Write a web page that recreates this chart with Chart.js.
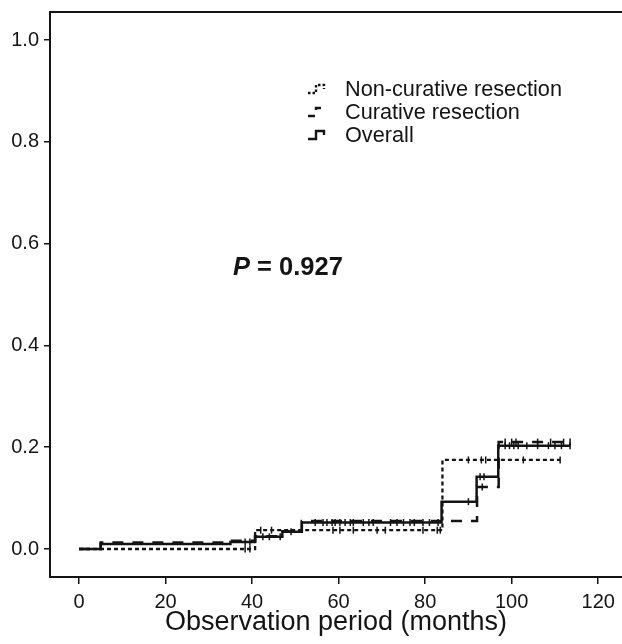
<!DOCTYPE html>
<html>
<head>
<meta charset="utf-8">
<script src="https://cdn.jsdelivr.net/npm/chart.js@4.4.0/dist/chart.umd.min.js"></script>
<style>
  html, body { margin: 0; padding: 0; background: #fff; overflow: hidden; }
  #wrap { width: 622px; height: 644px; position: relative; }
</style>
</head>
<body>
<div id="wrap"><canvas id="chart"></canvas></div>
<script>
// axis ticks
const xTicks = [0, 20, 40, 60, 80, 100, 120];
const yTicks = [0, 0.2, 0.4, 0.6, 0.8, 1.0];

// step curves: time the value starts, cumulative value
const nonCurTimes  = [0, 40.7, 84, 111.2];
const nonCurValues = [0, 0.037, 0.175, 0.175];

const curTimes  = [0, 5, 35, 40.7, 47, 51.5, 92, 97, 113.5];
const curValues = [0, 0.013, 0.016, 0.025, 0.035, 0.055, 0.122, 0.21, 0.21];

const allTimes  = [0, 5, 35, 40.7, 47, 51.5, 83.8, 91.9, 96.9, 113.5];
const allValues = [0, 0.010, 0.014, 0.024, 0.034, 0.052, 0.093, 0.142, 0.203, 0.203];

// censored observations (+ marks)
const nonCurCensor = [38.4, 39.5, 42, 44.5, 58.7, 60.3, 63.4, 68.9, 70.8, 79.5, 82.8, 83.5, 90, 93, 94, 102.7, 111.2];
const curCensor = [93.2, 98.5, 100, 101, 106, 109, 112, 113.5];
const allCensor = [38.4, 39.5, 42.5, 44, 46.5, 49, 54.6, 56.4, 57.3, 58.5, 59.2, 60.3, 61.5, 62.7, 63.4,
  65.7, 67, 68, 72, 73.5, 75, 76.5, 77.5, 79.5, 81, 83, 90, 92.7, 93.6,
  98.5, 99.5, 100.5, 101.5, 103.5, 106, 108.5, 110, 111.5, 113.5];

const legendLabels = ['Non-curative resection', 'Curative resection', 'Overall'];
const pText = '0.927';

const INK = '#141414';
const FONT = '"Liberation Sans", Arial, sans-serif';

const toPoints = (ts, vs) => ts.map((t, i) => ({ x: t, y: vs[i] }));
function levelAt(ts, vs, t) {
  let v = vs[0];
  for (let i = 0; i < ts.length; i++) if (ts[i] <= t) v = vs[i];
  return v;
}
const censorPoints = (cs, ts, vs) => cs.map(t => ({ x: t, y: levelAt(ts, vs, t) }));

const dashNon = [4, 3];
const dashCur = [11, 9];

function stepSet(data, dash, width) {
  return {
    type: 'line', data, stepped: 'before', borderColor: INK, borderWidth: width,
    borderDash: dash, pointRadius: 0, fill: false, tension: 0
  };
}
function censorSet(data) {
  return {
    type: 'scatter', data, pointStyle: 'line', rotation: 90, pointRadius: 3.5,
    borderColor: INK, borderWidth: 1.5, showLine: false
  };
}

const decor = {
  id: 'decor',
  afterDraw(chart) {
    const ctx = chart.ctx, a = chart.chartArea;
    ctx.save();
    // top frame line
    ctx.strokeStyle = INK; ctx.lineWidth = 2;
    ctx.beginPath(); ctx.moveTo(a.left, a.top); ctx.lineTo(a.right, a.top); ctx.stroke();

    // legend
    const dashes = [[2.5, 2], [7, 7], []];
    const rows = [89, 112, 135];
    ctx.font = '21.7px ' + FONT; ctx.fillStyle = INK; ctx.textBaseline = 'middle';
    legendLabels.forEach((lab, i) => {
      const y = rows[i], x0 = 308;
      ctx.setLineDash(dashes[i]); ctx.lineWidth = 2.4;
      ctx.beginPath();
      ctx.moveTo(x0, y + 4); ctx.lineTo(x0 + 8, y + 4); ctx.lineTo(x0 + 8, y - 4);
      ctx.lineTo(x0 + 16, y - 4); ctx.lineTo(x0 + 16, y);
      ctx.stroke();
      ctx.setLineDash([]);
      ctx.fillText(lab, 345, y + 1);
    });

    // p value
    ctx.font = 'italic bold 25.5px ' + FONT;
    ctx.fillText('P', 233, 268);
    const w = ctx.measureText('P').width;
    ctx.font = 'bold 25.5px ' + FONT;
    ctx.fillText(' = ' + pText, 233 + w, 268);
    ctx.restore();
  }
};

new Chart(document.getElementById('chart'), {
  data: {
    datasets: [
      stepSet(toPoints(nonCurTimes, nonCurValues), dashNon, 2.3),
      stepSet(toPoints(curTimes, curValues), dashCur, 2.5),
      stepSet(toPoints(allTimes, allValues), [], 2.5),
      censorSet(censorPoints(nonCurCensor, nonCurTimes, nonCurValues)),
      censorSet(censorPoints(curCensor, curTimes, curValues)),
      censorSet(censorPoints(allCensor, allTimes, allValues))
    ]
  },
  options: {
    responsive: true, maintainAspectRatio: false, animation: false,
    layout: { autoPadding: false, padding: { top: 12, right: 0, left: 0, bottom: 0 } },
    plugins: { legend: { display: false }, tooltip: { enabled: false } },
    scales: {
      x: {
        type: 'linear', min: -6.7, max: 125.5,
        afterBuildTicks: s => { s.ticks = xTicks.map(v => ({ value: v })); },
        afterFit: s => { s.height = 67; s.paddingLeft = 0; s.paddingRight = 0; },
        grid: { drawOnChartArea: false, drawTicks: true, tickLength: 7, tickColor: INK, lineWidth: 1.5 },
        border: { display: true, color: INK, width: 2 },
        ticks: { color: INK, font: { family: FONT, size: 20 }, padding: 6, maxRotation: 0 },
        title: { display: true, text: 'Observation period (months)', color: INK,
                 font: { family: FONT, size: 27 }, padding: { top: 0, bottom: 5 } }
      },
      y: {
        type: 'linear', min: -0.055, max: 1.055,
        afterBuildTicks: s => { s.ticks = yTicks.map(v => ({ value: v })); },
        afterFit: s => { s.width = 50; s.paddingTop = 0; s.paddingBottom = 0; },
        grid: { drawOnChartArea: false, drawTicks: true, tickLength: 6, tickColor: INK, lineWidth: 1.5 },
        border: { display: true, color: INK, width: 2 },
        ticks: { color: INK, font: { family: FONT, size: 20 }, padding: 5,
                 callback: v => v.toFixed(1) }
      }
    }
  },
  plugins: [decor]
});
</script>
</body>
</html>
